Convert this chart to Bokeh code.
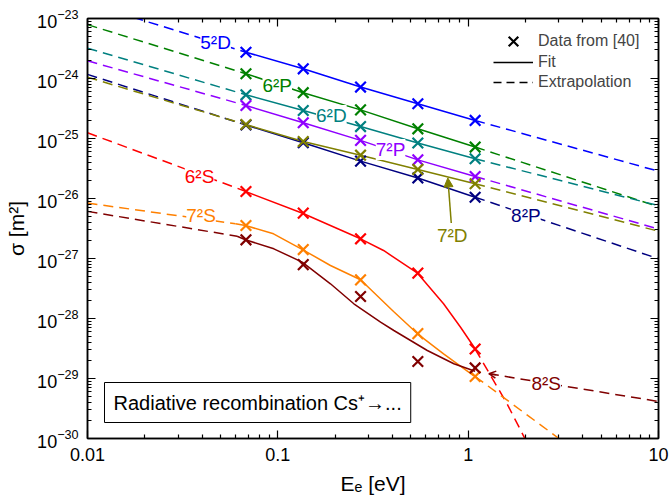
from bokeh.plotting import figure
from bokeh.models import (Range1d, LogAxis, FixedTicker, CustomJSTickFormatter, Label,
                          Legend, LegendItem, Arrow, NormalHead, OpenHead)
from bokeh.embed import file_html
from bokeh.resources import INLINE

# ---------------- data ----------------
E_data = [0.068, 0.136, 0.272, 0.544, 1.088]

sig_5D = [2.74e-24, 1.45e-24, 7.2e-25, 3.8e-25, 2.0e-25]
sig_6P = [1.2e-24, 5.8e-25, 3.0e-25, 1.45e-25, 7.2e-26]
sig_6D = [5.35e-25, 2.93e-25, 1.58e-25, 8.4e-26, 4.6e-26]
sig_7P = [3.55e-25, 1.83e-25, 9.3e-26, 4.4e-26, 2.33e-26]
sig_7D = [1.71e-25, 8.9e-26, 5.27e-26, 3.05e-26, 1.76e-26]
sig_8P = [1.68e-25, 8.5e-26, 4.2e-26, 2.2e-26, 1.05e-26]
sig_6S = [1.31e-26, 5.7e-27, 2.13e-27, 5.7e-28, 3.1e-29]
sig_7S = [3.55e-27, 1.41e-27, 4.4e-28, 5.6e-29, 1.08e-29]
sig_8S = [2.05e-27, 7.9e-28, 2.33e-28, 1.92e-29, 1.5e-29]

# extrapolation end values for power-law states (at E = 0.01 eV and E = 10 eV)
E_lo, E_hi = 0.01, 10.0
lo_5D, hi_5D = 1.8e-23, 2.85e-26
lo_6P, hi_6P = 7.9e-24, 7.3e-27
lo_6D, hi_6D = 3.2e-24, 7.6e-27
lo_7P, hi_7P = 1.97e-24, 3.1e-27
lo_7D, hi_7D = 1.05e-24, 2.85e-27
lo_8P, hi_8P = 1.17e-24, 9.9e-28

# fit curves for S states
fitE_6S = [0.0676, 0.1348, 0.272, 0.3593, 0.542, 0.7426, 0.912, 1.088]
fitS_6S = [1.31e-26, 5.69e-27, 2.13e-27, 1.36e-27, 5.69e-28, 1.76e-28, 7.16e-29, 3.13e-29]
fitE_7S = [0.0599, 0.0676, 0.0949, 0.1348, 0.189, 0.272, 0.4055, 0.542, 0.7426, 1.067]
fitS_7S = [3.79e-27, 3.55e-27, 2.58e-27, 1.41e-27, 7.64e-28, 4.42e-28, 1.31e-28, 5.56e-29, 2.58e-29, 1.12e-29]
fitE_8S = [0.0611, 0.0676, 0.0953, 0.1343, 0.189, 0.2508, 0.3465, 0.407, 0.61, 0.841, 1.088]
fitS_8S = [2.35e-27, 2.05e-27, 1.45e-27, 8.7e-28, 3.79e-28, 1.76e-28, 8.68e-29, 6.31e-29, 2.93e-29, 1.76e-29, 1.32e-29]

# extrapolations for S states
extLoE_6S, extLoS_6S = [0.01, 0.068], [1.245e-25, 1.31e-26]
extHiE_6S, extHiS_6S = [1.088, 1.6, 2.02], [3.1e-29, 3.8e-30, 9e-31]
extLoE_7S, extLoS_7S = [0.01, 0.0599], [8.4e-27, 3.79e-27]
extHiE_7S, extHiS_7S = [1.088, 3.0], [1.08e-29, 1.0e-30]
extLoE_8S, extLoS_8S = [0.01, 0.0611], [6.1e-27, 2.35e-27]
extHiE_8S, extHiS_8S = [1.285, 10.0], [1.2e-29, 4.14e-30]

x_major = [0.01, 0.1, 1, 10]
y_major = [1e-30, 1e-29, 1e-28, 1e-27, 1e-26, 1e-25, 1e-24, 1e-23]

# ---------------- styles ----------------
FONT = "Liberation Sans"
C = {"5D": "#0000ff", "6P": "#008000", "6D": "#008080", "7P": "#8f00ff",
     "7D": "#808000", "8P": "#000080", "6S": "#ff0000", "7S": "#ff8000", "8S": "#800000"}
DASH = "10 6"
LW = 1.5

p = figure(x_axis_type="log", y_axis_type="log",
           x_range=Range1d(0.01, 10), y_range=Range1d(1e-30, 1e-23),
           frame_width=571, frame_height=420,
           min_border_left=87, min_border_right=11, min_border_top=18, min_border_bottom=64,
           output_backend="svg", toolbar_location=None)
p.xgrid.visible = False
p.ygrid.visible = False
p.outline_line_color = "black"
p.outline_line_width = 1.5

x_minor = [m * 10.0 ** e for e in range(-2, 1) for m in range(2, 10)]
y_minor = [m * 10.0 ** e for e in range(-30, -23) for m in range(2, 10)]
xt = FixedTicker(ticks=x_major, minor_ticks=x_minor)
yt = FixedTicker(ticks=y_major, minor_ticks=y_minor)

bottom_ax = p.below[0]
left_ax = p.left[0]
bottom_ax.ticker = xt
left_ax.ticker = yt
bottom_ax.formatter = CustomJSTickFormatter(code="return Number(tick.toPrecision(3)).toString();")

top_ax = LogAxis(ticker=xt, formatter=CustomJSTickFormatter(code="return '';"))
right_ax = LogAxis(ticker=yt, formatter=CustomJSTickFormatter(code="return '';"))
p.add_layout(top_ax, "above")
p.add_layout(right_ax, "right")

for ax in [bottom_ax, left_ax, top_ax, right_ax]:
    ax.axis_line_width = 1.5
    ax.axis_line_color = "black"
    ax.major_tick_in = 8
    ax.major_tick_out = 0
    ax.minor_tick_in = 4
    ax.minor_tick_out = 0
    ax.major_tick_line_width = 1.2
    ax.minor_tick_line_width = 1.2
    ax.major_tick_line_color = "black"
    ax.minor_tick_line_color = "black"
    ax.major_label_text_font = FONT
    ax.major_label_text_font_size = "18px"
    ax.major_label_text_color = "black"
for ax in [top_ax, right_ax]:
    ax.major_label_standoff = 0

bottom_ax.major_label_standoff = 9
left_ax.major_label_standoff = 9
bottom_ax.axis_label = "Eₑ [eV]"
left_ax.axis_label = "σ [m²]"
for ax in [bottom_ax, left_ax]:
    ax.axis_label_text_font = FONT
    ax.axis_label_text_font_size = "21px"
    ax.axis_label_text_font_style = "normal"
    ax.axis_label_text_color = "black"
bottom_ax.axis_label_standoff = 8
left_ax.axis_label_standoff = 6

# ---------------- power-law states ----------------
power = [("5D", sig_5D, lo_5D, hi_5D), ("6P", sig_6P, lo_6P, hi_6P),
         ("6D", sig_6D, lo_6D, hi_6D), ("7P", sig_7P, lo_7P, hi_7P),
         ("8P", sig_8P, lo_8P, hi_8P), ("7D", sig_7D, lo_7D, hi_7D)]
for key, sig, lo, hi in power:
    col = C[key]
    p.line([E_lo, E_data[0]], [lo, sig[0]], line_color=col, line_width=LW, line_dash=DASH)
    p.line([E_data[-1], E_hi], [sig[-1], hi], line_color=col, line_width=LW, line_dash=DASH)
    p.line(E_data, sig, line_color=col, line_width=LW)

# ---------------- S states ----------------
s_states = [("6S", fitE_6S, fitS_6S, extLoE_6S, extLoS_6S, extHiE_6S, extHiS_6S),
            ("7S", fitE_7S, fitS_7S, extLoE_7S, extLoS_7S, extHiE_7S, extHiS_7S),
            ("8S", fitE_8S, fitS_8S, extLoE_8S, extLoS_8S, extHiE_8S, extHiS_8S)]
for key, fe, fs, le, ls, he, hs in s_states:
    col = C[key]
    p.line(le, ls, line_color=col, line_width=LW, line_dash=DASH)
    p.line(he, hs, line_color=col, line_width=LW, line_dash=DASH)
    p.line(fe, fs, line_color=col, line_width=LW)

# ---------------- data markers ----------------
for key, sig in [("5D", sig_5D), ("6P", sig_6P), ("6D", sig_6D), ("7P", sig_7P),
                 ("8P", sig_8P), ("7D", sig_7D), ("6S", sig_6S), ("7S", sig_7S), ("8S", sig_8S)]:
    p.scatter(E_data, sig, marker="x", size=15, line_color=C[key], line_width=2.2)

# ---------------- state labels ----------------
def lab(x, y, text, col):
    p.add_layout(Label(x=x, y=y, text=text, text_color=col, text_font=FONT,
                       text_font_size="19px", text_align="center", text_baseline="middle",
                       background_fill_color="white"))

lab(0.0471, 4.0e-24, "5²D", C["5D"])
lab(0.0993, 7.6e-25, "6²P", C["6P"])
lab(0.191, 2.42e-25, "6²D", C["6D"])
lab(0.391, 6.56e-26, "7²P", C["7P"])
lab(0.0388, 2.35e-26, "6²S", C["6S"])
lab(0.0395, 5.2e-27, "7²S", C["7S"])
lab(2.01, 5.2e-27, "8²P", C["8P"])
lab(0.825, 2.42e-27, "7²D", C["7D"])
lab(2.57, 8.2e-30, "8²S", C["8S"])

p.add_layout(Arrow(end=NormalHead(size=9, fill_color=C["7D"], line_color=C["7D"]),
                   x_start=0.815, y_start=3.9e-27, x_end=0.782, y_end=2.2e-26,
                   line_color=C["7D"], line_width=1.5))
p.add_layout(Arrow(end=OpenHead(size=7, line_color=C["8S"], line_width=1.5),
                   x_start=1.4, y_start=1.16e-29, x_end=1.285, y_end=1.2e-29,
                   line_color=C["8S"], line_width=1.5))

# ---------------- text box ----------------
p.add_layout(Label(x=17, y=16, x_units="screen", y_units="screen",
                   text="Radiative recombination Cs⁺→...", text_font=FONT,
                   text_font_size="20px", text_color="black",
                   border_line_color="black", border_line_width=1,
                   background_fill_color="white", padding=9))

# ---------------- legend (one single-row legend per entry) ----------------
nan = float("nan")
r_mark = p.scatter([nan], [nan], marker="x", size=15, line_color="black", line_width=2.2)
r_fit = p.line([nan], [nan], line_color="black", line_width=LW)
r_ext = p.line([nan], [nan], line_color="black", line_width=LW, line_dash="8 5")
for text, rend, ly in [("Data from [40]", r_mark, 380), ("Fit", r_fit, 359),
                       ("Extrapolation", r_ext, 339)]:
    lg = Legend(items=[LegendItem(label=text, renderers=[rend])],
                location=(406, ly), glyph_width=40, glyph_height=34, label_height=20,
                label_standoff=5, spacing=0, padding=0, margin=0,
                label_text_font=FONT, label_text_font_size="16px",
                border_line_alpha=0, background_fill_alpha=0)
    p.add_layout(lg)

open("out.html", "w").write(file_html(p, INLINE))
